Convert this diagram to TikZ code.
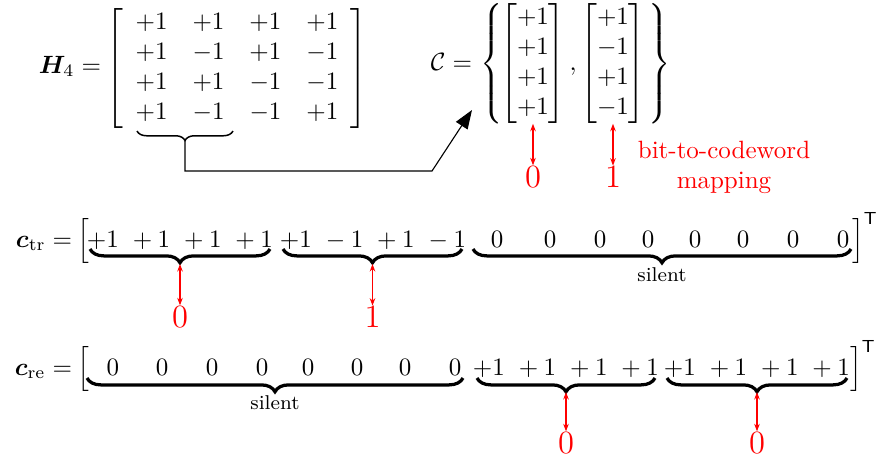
\documentclass[tikz,border=0pt]{standalone}
\usepackage{amsmath}
\usepackage{bm}
\usepackage{fontspec}
\usetikzlibrary{decorations.pathreplacing,arrows.meta}
\tikzset{
  mnode/.style={inner sep=0pt, outer sep=0pt},
  brthin/.style={decorate, decoration={brace,mirror,amplitude=3.8pt}, line width=0.6pt},
  brthick/.style={decorate, decoration={brace,mirror,amplitude=5.5pt}, line width=1.3pt},
  redarr/.style={red, line width=0.5pt, {Stealth[length=3pt,width=2.2pt]}-{Stealth[length=3pt,width=2.2pt]}},
  bigarr/.style={line width=0.45pt, -{Triangle[length=7.5pt,width=5.5pt]}},
  redlab/.style={red, inner sep=0pt, font=\fontsize{13}{15}\selectfont},
  silentlab/.style={inner sep=0pt, font=\footnotesize},
}
\begin{document}
\begin{tikzpicture}[x=0.4pt,y=-0.4pt]
\useasboundingbox (0,0) rectangle (881,461);
% ---- H4 ----
\node[mnode, anchor=base east] (Hlab) at (101,73) {$\bm{H}_4 =$};
\node[mnode] (Hmat) at (237,68) {$\left[\begin{array}{cccc}
 +1 & +1 & +1 & +1\\
 +1 & -1 & +1 & -1\\
 +1 & +1 & -1 & -1\\
 +1 & -1 & -1 & +1
\end{array}\right]$};
\draw[brthin] (137,131) -- (233,131);
\coordinate (Htip) at (185,141);
\coordinate (bend) at (432,171);
\coordinate (Cin) at (472,110);
\draw[bigarr] (Htip) |- (bend) -- (Cin);
% ---- C set ----
\node[mnode, anchor=base east] (Clab) at (472,70) {$\mathcal{C} =$};
\node[mnode, anchor=base west] (lbr) at (480,70) {$\left\{\vphantom{\begin{bmatrix}1\\1\\1\\1\end{bmatrix}}\right.$};
\node[mnode, anchor=base] (v1) at (533,70) {$\begin{bmatrix}+1\\+1\\+1\\+1\end{bmatrix}$};
\node[mnode, anchor=base] (comma) at (573,70) {$,$};
\node[mnode, anchor=base] (v2) at (613,70) {$\begin{bmatrix}+1\\-1\\+1\\-1\end{bmatrix}$};
\node[mnode, anchor=base west] (rbr) at (645,70) {$\left.\vphantom{\begin{bmatrix}1\\1\\1\\1\end{bmatrix}}\right\}$};
\node[redlab] (cz) at (533,177) {0};
\node[redlab] (co) at (613,177) {1};
\draw[redarr] (v1.south) -- (cz.north);
\draw[redarr] (v2.south) -- (co.north);
\node[red, align=center, inner sep=0pt] (map) at (724,167) {bit-to-codeword\\mapping};
% ---- c_tr ----
\node[mnode, anchor=base east] (ctr) at (72,247) {$\bm{c}_{\mathrm{tr}} =$};
\node[mnode, anchor=base west] (lb2) at (77,247) {$\Big[$};
\node[mnode, anchor=base] (g21) at (180,247) {$+1\ +1\ +1\ +1$};
\node[mnode, anchor=base] (g22) at (373,247) {$+1\ -1\ +1\ -1$};
\foreach \x [count=\i] in {497,550,600,648,695,743,793,843}
  \node[mnode, anchor=base] (z2\i) at (\x,247) {$0$};
\node[mnode, anchor=base west] (rb2) at (852,247) {$\Big]^{\mathsf{T}}$};
\draw[brthick] (90,249) -- (270,249);
\draw[brthick] (283,249) -- (462,249);
\draw[brthick] (473,249) -- (851,249);
\coordinate (t21) at (180,264);
\coordinate (t22) at (372.5,264);
\node[silentlab] (s2) at (662,275) {silent};
\node[redlab] (l21) at (180,317) {0};
\node[redlab] (l22) at (372.5,317) {1};
\draw[redarr] (t21) -- (l21.north);
\draw[redarr] (t22) -- (l22.north);
% ---- c_re ----
\node[mnode, anchor=base east] (cre) at (72,375) {$\bm{c}_{\mathrm{re}} =$};
\node[mnode, anchor=base west] (lb3) at (77,375) {$\Big[$};
\foreach \x [count=\i] in {113,162,212,262,308,357,405,455}
  \node[mnode, anchor=base] (z3\i) at (\x,375) {$0$};
\node[mnode, anchor=base] (g31) at (566,375) {$+1\ +1\ +1\ +1$};
\node[mnode, anchor=base] (g32) at (757,375) {$+1\ +1\ +1\ +1$};
\node[mnode, anchor=base west] (rb3) at (850,375) {$\Big]^{\mathsf{T}}$};
\draw[brthick] (87,378) -- (463,378);
\draw[brthick] (477,378) -- (655,378);
\draw[brthick] (667,378) -- (847,378);
\node[silentlab] (s3) at (275,403) {silent};
\coordinate (t31) at (566,392);
\coordinate (t32) at (757,392);
\node[redlab] (l31) at (566,443) {0};
\node[redlab] (l32) at (757,443) {0};
\draw[redarr] (t31) -- (l31.north);
\draw[redarr] (t32) -- (l32.north);
\end{tikzpicture}
\end{document}
